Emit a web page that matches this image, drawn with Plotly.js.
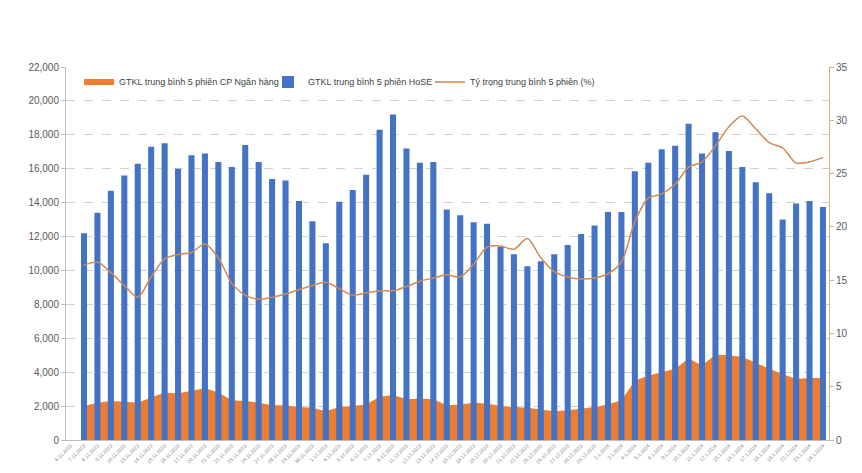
<!DOCTYPE html>
<html><head><meta charset="utf-8">
<script src="https://cdn.plot.ly/plotly-3.0.1.min.js"></script>
<style>html,body{margin:0;padding:0;background:#fff}#chart{width:862px;height:473px}</style>
</head><body><div id="chart"></div>
<script>
const dates = ["6.11.2023","7.11.2023","8.11.2023","9.11.2023","10.11.2023","13.11.2023","14.11.2023","15.11.2023","16.11.2023","17.11.2023","20.11.2023","21.11.2023","22.11.2023","23.11.2023","24.11.2023","27.11.2023","28.11.2023","29.11.2023","30.11.2023","1.12.2023","4.12.2023","5.12.2023","6.12.2023","7.12.2023","8.12.2023","11.12.2023","12.12.2023","13.12.2023","14.12.2023","15.12.2023","18.12.2023","19.12.2023","20.12.2023","21.12.2023","22.12.2023","25.12.2023","26.12.2023","27.12.2023","28.12.2023","29.12.2023","2.1.2024","3.1.2024","4.1.2024","5.1.2024","8.1.2024","9.1.2024","10.1.2024","11.1.2024","12.1.2024","15.1.2024","16.1.2024","17.1.2024","18.1.2024","19.1.2024","22.1.2024","23.1.2024","24.1.2024"];
const bankVol = [null,2000,2200,2300,2250,2200,2500,2800,2750,2900,3050,2800,2350,2300,2200,2050,2050,1950,1900,1700,1950,2000,2100,2550,2650,2400,2450,2400,2050,2100,2200,2150,2000,1950,1900,1800,1700,1750,1850,1950,2100,2350,3500,3800,4000,4200,4800,4400,5050,5000,4900,4550,4200,3900,3600,3650,3650];
const hoseVol = [null,12200,13400,14700,15600,16300,17300,17500,16000,16800,16900,16400,16100,17400,16400,15400,15300,14100,12900,11600,14050,14750,15650,18300,19200,17200,16350,16400,13600,13250,12850,12750,11400,10950,10250,10550,10950,11500,12150,12650,13450,13450,15850,16350,17150,17350,18650,16900,18150,17050,16100,15200,14550,13000,13950,14100,13750];
const sharePct = [null,16.4,16.7,15.7,14.5,13.4,15.3,17.0,17.4,17.6,18.4,17.1,14.7,13.6,13.2,13.4,13.7,14.1,14.5,14.8,14.2,13.6,13.8,14.0,14.0,14.4,14.9,15.2,15.5,15.3,16.5,18.1,18.2,17.9,18.9,17.1,15.8,15.3,15.1,15.2,15.6,16.7,20.5,22.7,23.1,24.0,25.6,26.1,27.6,29.4,30.4,29.2,27.9,27.4,26.0,26.1,26.5];
const names = ["GTKL trung bình 5 phiên CP Ngân hàng","GTKL trung bình 5 phiên HoSE","Tỷ trọng trung bình 5 phiên (%)"];

const FONT = "Liberation Sans, Arial, sans-serif";
const traces = [
  {type:'scatter', x:dates, y:bankVol, name:names[0], mode:'none', fill:'tozeroy',
   fillcolor:'#ED7D31', yaxis:'y', legend:'legend'},
  {type:'bar', x:dates, y:hoseVol, name:names[1], marker:{color:'#4472C4'}, yaxis:'y2', legend:'legend2'},
  {type:'scatter', x:dates, y:sharePct, name:names[2], mode:'lines',
   line:{color:'#D08A52', width:1.5, shape:'spline', smoothing:0.8}, yaxis:'y3', legend:'legend3'}
];
function leg(x){
  return {orientation:'h', x:x, y:0.96, xanchor:'left', yanchor:'middle',
    font:{size:9, color:'#404040', family:FONT}, bgcolor:'rgba(0,0,0,0)', itemwidth:30};
}
const layout = {
  width:862, height:473,
  margin:{l:66, r:33, t:67, b:33},
  paper_bgcolor:'#fff', plot_bgcolor:'#fff',
  font:{family:FONT, color:'#595959', size:10},
  showlegend:true,
  legend:leg(0.0171), legend2:leg(0.2647), legend3:leg(0.477),
  bargap:0.55,
  xaxis:{type:'category', categoryorder:'array', categoryarray:dates, range:[-0.34,56.45],
    tickangle:-45, tickfont:{size:5, color:'#7f7f7f'}, tickmode:'linear', dtick:1,
    showline:true, linecolor:'#bfbfbf', linewidth:1, ticks:'', showgrid:false, zeroline:false, automargin:false},
  yaxis:{range:[0,22000], dtick:2000, tickformat:',', showgrid:true, gridcolor:'#d0d0d0', griddash:'dash',
    showline:true, linecolor:'#bfbfbf', ticks:'outside', ticklen:4, tickcolor:'#bfbfbf',
    zeroline:false, tickfont:{size:10, color:'#595959'}, automargin:false},
  yaxis2:{range:[0,22000], overlaying:'y', showgrid:false, showticklabels:false, showline:false,
    zeroline:false, ticks:''},
  yaxis3:{range:[0,35], dtick:5, overlaying:'y', side:'right', showgrid:false,
    showline:true, linecolor:'#D9B08C', ticks:'outside', ticklen:4, tickcolor:'#D9B08C',
    zeroline:false, tickfont:{size:10, color:'#595959'}, automargin:false}
};
Plotly.newPlot('chart', traces, layout, {displayModeBar:false, staticPlot:true});
</script></body></html>
